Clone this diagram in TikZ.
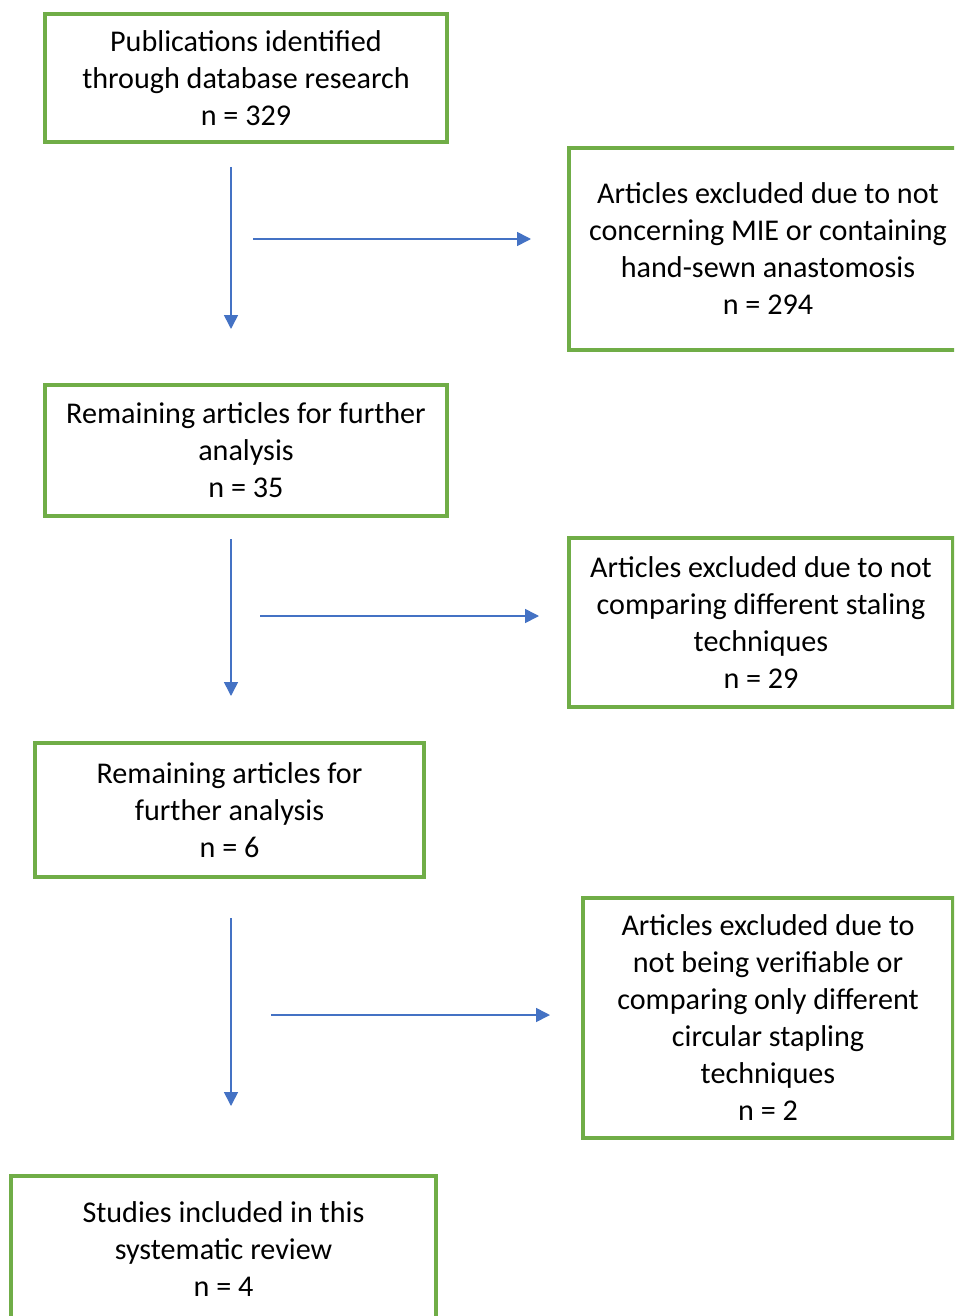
\documentclass[tikz,border=0pt]{standalone}
\usepackage{fontspec}
\setmainfont{Carlito}
\usetikzlibrary{arrows.meta}
\definecolor{boxgreen}{RGB}{112,173,71}
\definecolor{arrblue}{RGB}{68,114,196}
\tikzset{
  flowbox/.style={draw=boxgreen, line width=2.5pt, rectangle, inner sep=0pt, align=center,
    font=\fontsize{22.6}{27.75}\selectfont, text=black},
  flowarrow/.style={draw=arrblue, line width=1.2pt, -{Triangle[length=10.5pt,width=10.5pt]}}
}
\begin{document}
\begin{tikzpicture}[x=0.75pt,y=-0.75pt]
\useasboundingbox (0,0) rectangle (954,1316);
\clip (0,0) rectangle (954,1316);
\fill[white] (0,0) rectangle (954,1316);
% main column boxes
\node[flowbox, minimum width=301.5pt, minimum height=96pt] (b1) at (246,78)
  {Publications identified\\through database research\\n = 329};
\node[flowbox, minimum width=301.5pt, minimum height=98.25pt] (b2) at (246,450.5)
  {Remaining articles for further\\analysis\\n = 35};
\node[flowbox, minimum width=291.75pt, minimum height=100.5pt] (b3) at (229.5,810)
  {Remaining articles for\\further analysis\\n = 6};
\node[flowbox, minimum width=318.75pt, minimum height=109.5pt] (b4) at (223.5,1249)
  {Studies included in this\\systematic review\\n = 4};
% exclusion boxes
\node[flowbox, minimum width=298.5pt, minimum height=151.5pt] (r1) at (768,249)
  {Articles excluded due to not\\concerning MIE or containing\\hand-sewn anastomosis\\n = 294};
\node[flowbox, minimum width=288pt, minimum height=126.75pt] (r2) at (761,622.5)
  {Articles excluded due to not\\comparing different staling\\techniques\\n = 29};
\node[flowbox, minimum width=277.5pt, minimum height=180pt] (r3) at (768,1018)
  {Articles excluded due to\\not being verifiable or\\comparing only different\\circular stapling\\techniques\\n = 2};
% arrow end points
\coordinate (v1s) at (231,167); \coordinate (v1e) at (231,329);
\coordinate (h1s) at (253,239); \coordinate (h1e) at (531,239);
\coordinate (v2s) at (231,539); \coordinate (v2e) at (231,696);
\coordinate (h2s) at (260,616); \coordinate (h2e) at (539,616);
\coordinate (v3s) at (231,918); \coordinate (v3e) at (231,1106);
\coordinate (h3s) at (271,1015); \coordinate (h3e) at (550,1015);
\draw[flowarrow] (v1s) -- (v1e);
\draw[flowarrow] (h1s) -- (h1e);
\draw[flowarrow] (v2s) -- (v2e);
\draw[flowarrow] (h2s) -- (h2e);
\draw[flowarrow] (v3s) -- (v3e);
\draw[flowarrow] (h3s) -- (h3e);
\end{tikzpicture}
\end{document}
